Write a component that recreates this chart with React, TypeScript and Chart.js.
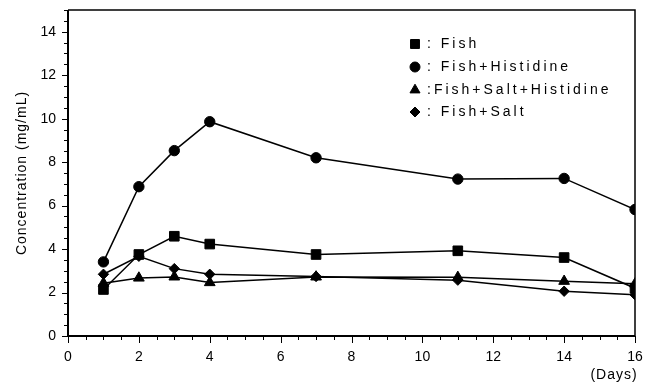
import React, { useEffect, useRef } from 'react';
import { Chart, registerables } from 'chart.js';

Chart.register(...registerables);

const days = [1, 2, 3, 4, 7, 11, 14, 16];
const fish = [2.14, 3.75, 4.59, 4.23, 3.75, 3.92, 3.61, 2.2];
const fishHistidine = [3.41, 6.87, 8.53, 9.86, 8.2, 7.22, 7.25, 5.82];
const fishSaltHistidine = [2.43, 2.67, 2.72, 2.46, 2.72, 2.7, 2.52, 2.4];
const fishSalt = [2.84, 3.67, 3.1, 2.84, 2.74, 2.57, 2.06, 1.9];

const seriesLabels = [': Fish', ': Fish+Histidine', ':Fish+Salt+Histidine', ': Fish+Salt'];
const seriesValues = [fish, fishHistidine, fishSaltHistidine, fishSalt];
const pointStyles = ['rect', 'circle', 'triangle', 'rectRot'];
const pointRadii = [6.8, 5.2, 6.2, 5.2];

const yAxisTitle = 'Concentration (mg/mL)';
const xAxisUnit = '(Days)';

const FONT = '"Liberation Sans", Arial, Helvetica, sans-serif';

function drawMarker(ctx: CanvasRenderingContext2D, style: string, x: number, y: number, r: number) {
  ctx.beginPath();
  if (style === 'rect') {
    const s = Math.SQRT1_2 * r;
    ctx.rect(x - s, y - s, 2 * s, 2 * s);
  } else if (style === 'circle') {
    ctx.arc(x, y, r, 0, Math.PI * 2);
  } else if (style === 'triangle') {
    let a = 0;
    ctx.moveTo(x + Math.sin(a) * r, y - Math.cos(a) * r);
    a += (2 * Math.PI) / 3;
    ctx.lineTo(x + Math.sin(a) * r, y - Math.cos(a) * r);
    a += (2 * Math.PI) / 3;
    ctx.lineTo(x + Math.sin(a) * r, y - Math.cos(a) * r);
    ctx.closePath();
  } else {
    ctx.moveTo(x, y - r);
    ctx.lineTo(x + r, y);
    ctx.lineTo(x, y + r);
    ctx.lineTo(x - r, y);
    ctx.closePath();
  }
  ctx.fill();
  ctx.stroke();
}

const framePlugin = {
  id: 'framePlugin',
  afterDraw(chart: any) {
    const ctx: CanvasRenderingContext2D = chart.ctx;
    const { left, right, top, bottom } = chart.chartArea;
    const xs = chart.scales.x;
    const ys = chart.scales.y;
    ctx.save();
    ctx.strokeStyle = '#000';
    ctx.fillStyle = '#000';
    // frame
    ctx.lineWidth = 1.5;
    ctx.beginPath();
    ctx.moveTo(left, top);
    ctx.lineTo(right, top);
    ctx.lineTo(right, bottom);
    ctx.stroke();
    ctx.lineWidth = 2;
    ctx.beginPath();
    ctx.moveTo(left, top);
    ctx.lineTo(left, bottom);
    ctx.lineTo(right, bottom);
    ctx.stroke();
    // ticks
    ctx.lineWidth = 1;
    for (let i = 0; i <= 32; i++) {
      const v = i * 0.5;
      const px = Math.round(xs.getPixelForValue(v)) + 0.5;
      const len = i % 4 === 0 ? 7 : 4;
      ctx.beginPath();
      ctx.moveTo(px, bottom);
      ctx.lineTo(px, bottom + len);
      ctx.stroke();
    }
    for (let i = 0; i <= 30; i++) {
      const v = i * 0.5;
      const py = Math.round(ys.getPixelForValue(v)) + 0.5;
      const len = i % 4 === 0 ? 6 : 4;
      ctx.beginPath();
      ctx.moveTo(left, py);
      ctx.lineTo(left - len, py);
      ctx.stroke();
    }
    // legend
    const legendX = 415;
    const legendRows = [44, 67, 90, 112];
    (ctx as any).letterSpacing = '3px';
    ctx.font = '14px ' + FONT;
    ctx.textBaseline = 'middle';
    ctx.textAlign = 'left';
    ctx.lineWidth = 1;
    for (let i = 0; i < seriesLabels.length; i++) {
      const ry = legendRows[i];
      drawMarker(ctx, pointStyles[i], legendX, ry, i === 0 ? 6.3 : i === 1 ? 5 : i === 2 ? 5.8 : 5);
      ctx.fillText(seriesLabels[i], 427, ry + 0.5);
    }
    // x unit
    (ctx as any).letterSpacing = '1px';
    ctx.font = '14px ' + FONT;
    ctx.textAlign = 'center';
    ctx.fillText(xAxisUnit, 614, 375);
    // y title
    ctx.translate(22, (top + bottom) / 2);
    ctx.rotate(-Math.PI / 2);
    ctx.textAlign = 'center';
    ctx.textBaseline = 'middle';
    ctx.fillText(yAxisTitle, 0, 0);
    ctx.restore();
  },
};

export default function App() {
  const canvasRef = useRef<HTMLCanvasElement | null>(null);

  useEffect(() => {
    document.body.style.margin = '0';
    const canvas = canvasRef.current;
    if (!canvas) return;
    Chart.defaults.font.family = FONT;
    Chart.defaults.color = '#000';
    const datasets = seriesValues.map((vals, i) => ({
      label: seriesLabels[i],
      data: days.map((d, j) => ({ x: d, y: vals[j] })),
      borderColor: '#000',
      backgroundColor: '#000',
      borderWidth: 1.5,
      pointStyle: pointStyles[i],
      pointRadius: pointRadii[i],
      pointBorderWidth: 1,
      pointBorderColor: '#000',
      pointBackgroundColor: '#000',
      tension: 0,
      fill: false,
      showLine: true,
    }));
    const chart = new Chart(canvas, {
      type: 'line',
      data: { datasets },
      options: {
        animation: false,
        responsive: false,
        devicePixelRatio: 1,
        layout: { padding: { top: 10, right: 17, left: 0, bottom: 0 } },
        plugins: { legend: { display: false }, tooltip: { enabled: false } },
        scales: {
          x: {
            type: 'linear',
            min: 0,
            max: 16,
            grid: { display: false, drawTicks: false },
            border: { display: false },
            ticks: { stepSize: 2, font: { size: 14 }, color: '#000', padding: 13, maxRotation: 0, includeBounds: false },
            afterFit: (s: any) => { s.height = 47; s.paddingLeft = 0; s.paddingRight = 0; },
          },
          y: {
            type: 'linear',
            min: 0,
            max: 15,
            grid: { display: false, drawTicks: false },
            border: { display: false },
            ticks: { stepSize: 2, font: { size: 14 }, color: '#000', padding: 12, includeBounds: false },
            afterFit: (s: any) => { s.width = 68; s.paddingTop = 0; s.paddingBottom = 0; },
          },
        },
      } as any,
      plugins: [framePlugin],
    });
    return () => chart.destroy();
  }, []);

  return (
    <div style={{ position: 'absolute', left: 0, top: 0, width: 652, height: 383, background: '#fff' }}>
      <canvas ref={canvasRef} width={652} height={383} />
    </div>
  );
}
